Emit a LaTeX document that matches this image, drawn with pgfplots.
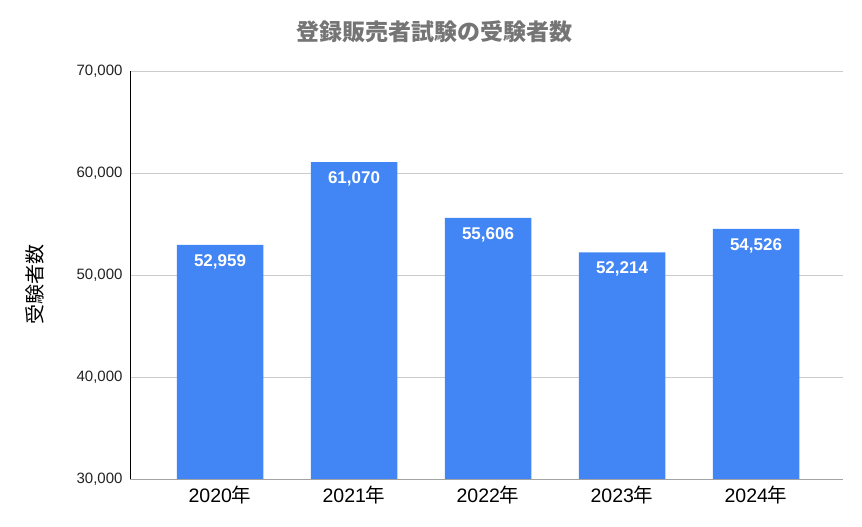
\documentclass[border=0pt]{standalone}
\usepackage{fontspec}
\setmainfont{Liberation Sans}
\newfontfamily\cjk{Noto Sans CJK JP}
\usepackage{pgfplots}
\pgfplotsset{compat=1.18}

\definecolor{barblue}{HTML}{4285F4}
\definecolor{gridgray}{HTML}{CCCCCC}
\definecolor{titlegray}{HTML}{757575}
\definecolor{ticktext}{HTML}{222222}

\begin{document}
\begin{tikzpicture}[x=1pt,y=1pt]
\useasboundingbox (-130,-48) rectangle (732,479);
\begin{axis}[
  at={(0,0)}, anchor=south west,
  scale only axis,
  width=713pt, height=408pt,
  xmin=-0.672, xmax=4.649,
  ymin=30000, ymax=70000,
  ytick={30000,40000,50000,60000,70000},
  xtick={0,1,2,3,4},
  xticklabels={2020{\cjk 年},2021{\cjk 年},2022{\cjk 年},2023{\cjk 年},2024{\cjk 年}},
  major tick length=0pt,
  ymajorgrids,
  grid style={gridgray, line width=0.8pt},
  axis line style={draw=none},
  yticklabel style={
    font=\fontsize{15}{15}\selectfont, text=ticktext,
    /pgf/number format/.cd, fixed, 1000 sep={,}, assume math mode=true
  },
  xticklabel style={font=\fontsize{19.5}{19.5}\selectfont, text=black, yshift=-4pt},
  yticklabel shift=4pt,
  scaled y ticks=false,
  bar width=86.5pt,
  nodes near coords,
  nodes near coords style={
    font=\bfseries\fontsize{17}{17}\selectfont, text=white, anchor=north, yshift=-6pt,
    /pgf/number format/.cd, fixed, 1000 sep={,}, assume math mode=true
  },
  clip=false,
]
\addplot[ybar, fill=barblue, draw=none] coordinates {
  (0,52959) (1,61070) (2,55606) (3,52214) (4,54526)
};
\draw[black, line width=0.8pt] (rel axis cs:0,0) -- (rel axis cs:0,1);
\draw[gridgray!80!black, line width=0.8pt] (rel axis cs:0,0) -- (rel axis cs:1,0);
\end{axis}
\node[font=\cjk\bfseries\fontsize{23}{23}\selectfont, text=titlegray] at (304,447) {登録販売者試験の受験者数};
\node[font=\cjk\fontsize{20}{20}\selectfont, rotate=90, text=black] at (-95,194) {受験者数};
\end{tikzpicture}
\end{document}
